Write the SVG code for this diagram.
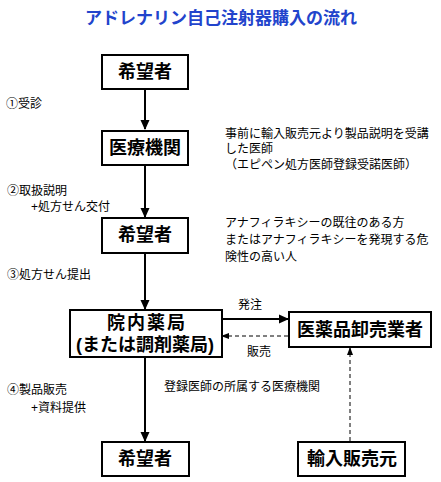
<svg xmlns="http://www.w3.org/2000/svg" width="441" height="482" viewBox="0 0 441 482">
<style>
  .box { fill: #ffffff; stroke: #000000; stroke-width: 2; }
  .bt { font-family: "Liberation Sans", "Noto Sans CJK JP", sans-serif; font-size: 18px; font-weight: bold; fill: #000; text-anchor: middle; }
  .st { font-family: "Liberation Sans", "Noto Sans CJK JP", sans-serif; font-size: 12px; fill: #000; }
  .title { font-family: "Liberation Sans", "Noto Sans CJK JP", sans-serif; font-size: 17px; font-weight: bold; fill: #2244cc; text-anchor: middle; }
  .solid { stroke: #000; stroke-width: 2; fill: none; }
  .dash { stroke: #000; stroke-width: 1; fill: none; stroke-dasharray: 4 3; }
</style>
<defs>
  <marker id="ah" markerWidth="10" markerHeight="10" refX="9" refY="5" orient="auto" markerUnits="userSpaceOnUse">
    <path d="M0,0.5 L10,5 L0,9.5 Z" fill="#000"/>
  </marker>
  <marker id="ahs" markerWidth="8" markerHeight="8" refX="7" refY="4" orient="auto" markerUnits="userSpaceOnUse">
    <path d="M0,1 L8,4 L0,7 Z" fill="#000"/>
  </marker>
</defs>
<rect width="441" height="482" fill="#ffffff"/>
<text class="title" x="221" y="24">アドレナリン自己注射器購入の流れ</text>

<g id="connectors">
  <line class="solid" x1="145" y1="89" x2="145" y2="129" marker-end="url(#ah)"/>
  <line class="solid" x1="145" y1="165" x2="145" y2="217" marker-end="url(#ah)"/>
  <line class="solid" x1="145" y1="253" x2="145" y2="309" marker-end="url(#ah)"/>
  <line class="solid" x1="145" y1="357" x2="145" y2="441" marker-end="url(#ah)"/>
  <line class="solid" x1="222" y1="319" x2="288" y2="319" marker-end="url(#ah)"/>
  <line class="dash" x1="288" y1="336" x2="222" y2="336" marker-end="url(#ahs)"/>
  <line class="dash" x1="350" y1="441" x2="350" y2="348" marker-end="url(#ahs)"/>
</g>

<g id="node-kibousha1">
  <rect class="box" x="102" y="55" width="86" height="34"/>
  <text class="bt" x="145" y="78">希望者</text>
</g>
<g id="node-iryoukikan">
  <rect class="box" x="102" y="131" width="86" height="34"/>
  <text class="bt" x="145" y="154">医療機関</text>
</g>
<g id="node-kibousha2">
  <rect class="box" x="102" y="218" width="86" height="35"/>
  <text class="bt" x="145" y="241">希望者</text>
</g>
<g id="node-innaiyakkyoku">
  <rect class="box" x="70" y="310" width="152" height="47"/>
  <text class="bt"><tspan x="147" y="329" letter-spacing="2">院内薬局</tspan><tspan x="145" y="351" letter-spacing="0">(または調剤薬局)</tspan></text>
</g>
<g id="node-oroshi">
  <rect class="box" x="289" y="312" width="142" height="35"/>
  <text class="bt" x="360" y="336">医薬品卸売業者</text>
</g>
<g id="node-kibousha3">
  <rect class="box" x="102" y="442" width="87" height="34"/>
  <text class="bt" x="145" y="465">希望者</text>
</g>
<g id="node-yunyu">
  <rect class="box" x="298" y="442" width="107" height="34"/>
  <text class="bt" x="352" y="465">輸入販売元</text>
</g>

<g id="labels">
  <text class="st" x="6" y="108">①受診</text>
  <text class="st"><tspan x="225" y="138">事前に輸入販売元より製品説明を受講</tspan><tspan x="225" y="153">した医師</tspan><tspan x="225" y="169">（エピペン処方医師登録受諾医師）</tspan></text>
  <text class="st"><tspan x="7" y="195">②取扱説明</tspan><tspan x="31" y="211">+処方せん交付</tspan></text>
  <text class="st"><tspan x="225" y="227">アナフィラキシーの既往のある方</tspan><tspan x="225" y="244">またはアナフィラキシーを発現する危</tspan><tspan x="225" y="261">険性の高い人</tspan></text>
  <text class="st" x="7" y="279">③処方せん提出</text>
  <text class="st" x="238" y="309">発注</text>
  <text class="st" x="247" y="356">販売</text>
  <text class="st" x="164" y="391">登録医師の所属する医療機関</text>
  <text class="st"><tspan x="7" y="394">④製品販売</tspan><tspan x="31" y="412">+資料提供</tspan></text>
</g>
</svg>
